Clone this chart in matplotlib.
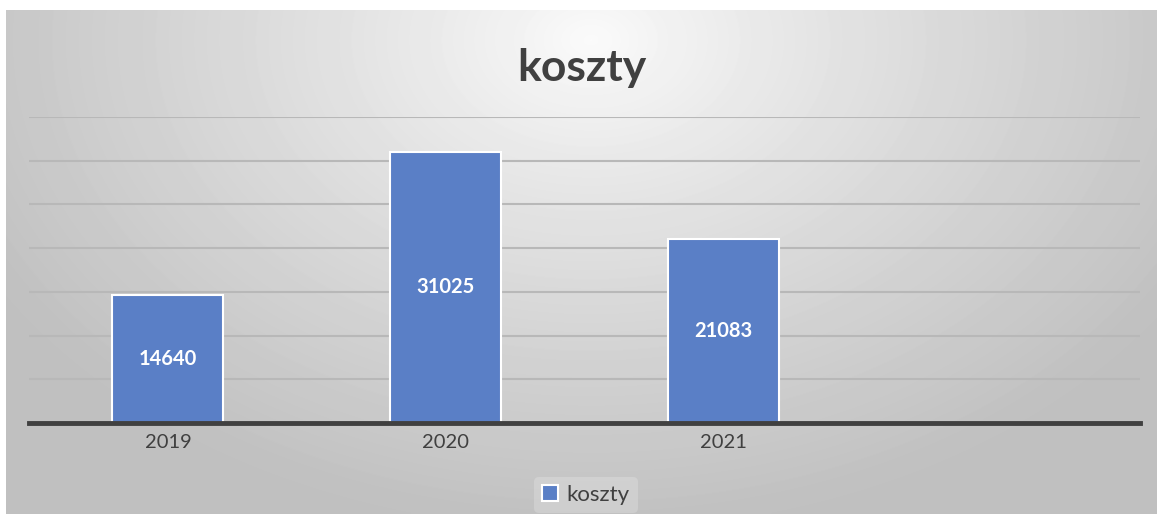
import numpy as np
import matplotlib.pyplot as plt

# chart data
years = ['2019', '2020', '2021', '']
koszty = [14640, 31025, 21083, 0]
grid_values = [5000, 10000, 15000, 20000, 25000, 30000, 35000]

W, H = 1157, 514
fig = plt.figure(figsize=(W / 100, H / 100), dpi=100)
fig.patch.set_facecolor('white')

# radial grey gradient plate behind the chart
bg = fig.add_axes([6 / W, 0, (W - 6) / W, (H - 10) / H])
yy, xx = np.mgrid[0:504, 0:1151]
d = np.sqrt(((xx - 585) / 700.0) ** 2 + ((yy - 30) / 500.0) ** 2)
d = np.clip(d, 0, 1) ** 0.85
shade = 0.985 - (0.985 - 0.75) * d
bg.imshow(shade, cmap='gray', vmin=0, vmax=1, aspect='auto', interpolation='bilinear')
bg.axis('off')

ax = fig.add_axes([29 / W, 1 - 423 / H, (1140 - 29) / W, (423 - 117) / H])
ax.patch.set_alpha(0)
x = np.arange(len(years))
bars = ax.bar(x, koszty, width=0.4, color='#5a7fc6', edgecolor='white',
              linewidth=1.5, label='koszty', zorder=3)
for xi, v in zip(x, koszty):
    if v > 0:
        ax.text(xi, v / 2, str(v), ha='center', va='center', color='white',
                fontsize=14.5, fontweight='bold', family='Lato', zorder=4)

ax.set_xlim(-0.5, len(years) - 0.5)
ax.set_ylim(0, 35000)
ax.set_yticks(grid_values)
ax.yaxis.grid(True, color='#b8b8b8', linewidth=1.5, zorder=0)
ax.set_xticks(x)
ax.set_xticklabels(years, fontsize=14.5, color='#404040', family='Lato')
ax.tick_params(axis='x', length=0, pad=8)
ax.tick_params(axis='y', length=0, labelleft=False)
for s in ['top', 'right', 'left']:
    ax.spines[s].set_visible(False)
ax.spines['bottom'].set_color('#404040')
ax.spines['bottom'].set_linewidth(3.5)
ax.spines['bottom'].set_zorder(5)

fig.text(582 / W, 1 - 68 / H, 'koszty', ha='center', va='center', fontsize=32,
         fontweight='bold', color='#404040', family='Lato')

leg = fig.legend(handles=[bars], labels=['koszty'], loc='center',
                 bbox_to_anchor=(586 / W, 1 - 495 / H),
                 frameon=True, handlelength=0.7, handleheight=0.7,
                 handletextpad=0.4, borderpad=0.35,
                 prop={'family': 'Lato', 'size': 16})
leg.get_frame().set_facecolor('white')
leg.get_frame().set_alpha(0.2)
leg.get_frame().set_edgecolor('none')
for t in leg.get_texts():
    t.set_color('#404040')

fig.savefig('out.png', dpi=100)
